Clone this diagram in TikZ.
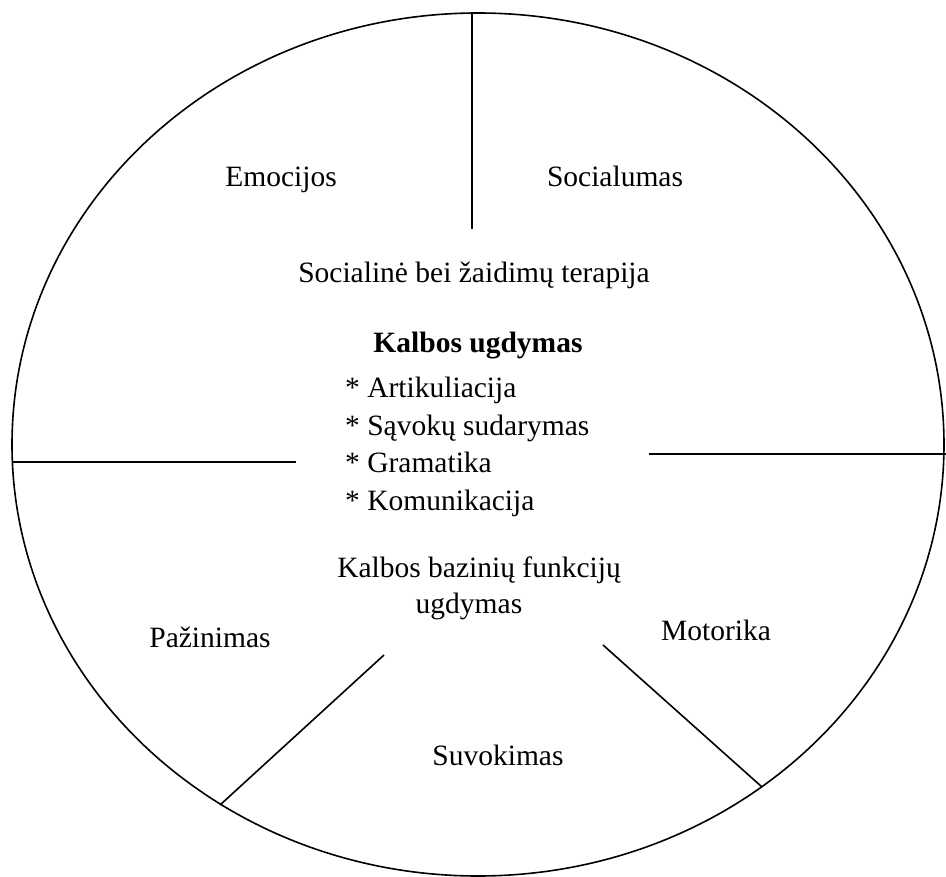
\documentclass[tikz,border=0pt]{standalone}
\usepackage{fontspec}
\setmainfont{Liberation Serif}
\begin{document}
\begin{tikzpicture}[x=1pt,y=-1pt,
  lbl/.style={font=\fontsize{29.5}{36}\selectfont, inner sep=0pt, anchor=base},
  ln/.style={line width=1.6pt}]
\useasboundingbox (0,0) rectangle (946,877);
\draw[ln] (478,444.5) ellipse [x radius=466pt, y radius=431.5pt];
% dividing lines
\coordinate (topA) at (472,13);
\coordinate (topB) at (472,229);
\coordinate (leftA) at (12,462);
\coordinate (leftB) at (296,462);
\coordinate (rightA) at (649,454);
\coordinate (rightB) at (946,454);
\coordinate (llA) at (384,655);
\coordinate (llB) at (220,805);
\coordinate (lrA) at (603,645);
\coordinate (lrB) at (762,787);
\draw[ln] (topA) -- (topB);
\draw[ln] (leftA) -- (leftB);
\draw[ln] (rightA) -- (rightB);
\draw[ln] (llA) -- (llB);
\draw[ln] (lrA) -- (lrB);
% labels
\node[lbl] (emo) at (281,187) {Emocijos};
\node[lbl] (soc) at (615,187) {Socialumas};
\node[lbl] (ter) at (474,283) {Socialinė bei žaidimų terapija};
\node[lbl, font=\fontsize{29.5}{36}\selectfont\bfseries] (kal) at (478,353) {Kalbos ugdymas};
\node[lbl, anchor=base west] (l1) at (345,398) {* Artikuliacija};
\node[lbl, anchor=base west] (l2) at (345,436) {* Sąvokų sudarymas};
\node[lbl, anchor=base west] (l3) at (345,473) {* Gramatika};
\node[lbl, anchor=base west] (l4) at (345,511) {* Komunikacija};
\node[lbl] (baz1) at (479,577) {Kalbos bazinių funkcijų};
\node[lbl] (baz2) at (469,613) {ugdymas};
\node[lbl] (paz) at (210,647) {Pažinimas};
\node[lbl] (mot) at (716,640) {Motorika};
\node[lbl] (suv) at (498,765) {Suvokimas};
\end{tikzpicture}
\end{document}
